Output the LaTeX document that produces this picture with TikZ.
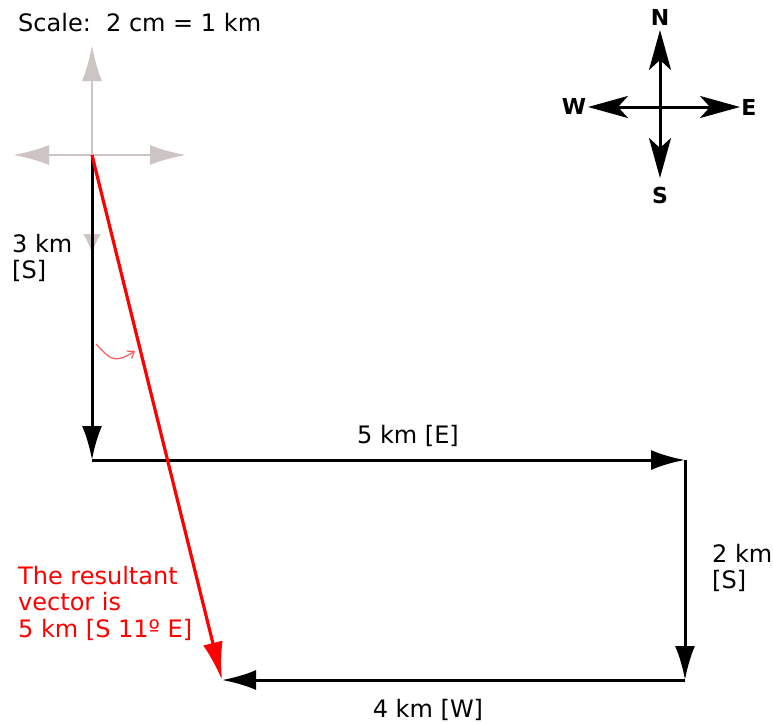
\documentclass[tikz,border=0pt]{standalone}
\usepackage{fontspec}
\setmainfont{DejaVu Sans}
\usepackage{tikz}
\usetikzlibrary{arrows.meta, positioning}
\usepackage{xcolor}
\definecolor{axisgray}{RGB}{206,196,196}
\definecolor{hintred}{RGB}{250,90,90}

\begin{document}
\begin{tikzpicture}[x=1pt, y=-1pt,
    leg/.style = {draw=black, line width=3pt, -{Latex[length=34pt, width=20pt]}},
    result/.style = {draw=red, line width=3.2pt, -{Latex[length=38pt, width=20pt]}},
    faint/.style = {draw=axisgray, line width=2.8pt, -{Latex[length=36pt, width=20pt]}},
    needle/.style = {draw=black, line width=3pt, -{Stealth[length=40pt, width=22pt, inset=10pt]}},
    txt/.style = {inner sep=0pt, font=\fontsize{24}{26.5}\selectfont, align=left},
    point/.style = {inner sep=0pt, font=\bfseries\fontsize{22}{24}\selectfont}
]
\useasboundingbox (0,0) rectangle (773,723);

% Scale
\node (scale) [txt, anchor=base west] at (18,31) {Scale:\ \ 2 cm = 1 km};

% Corners of the path
\coordinate (O) at (92,155);
\coordinate (A) at (92,460);
\coordinate (B) at (685,460);
\coordinate (C) at (685,680);
\coordinate (D) at (222,680);

% Faded axes at start
\coordinate (up) at (92,45);
\coordinate (lf) at (13,155);
\coordinate (rt) at (186,155);
\coordinate (dn) at (92,254);
\draw [faint] (O) -- (up);
\draw [faint] (O) -- (lf);
\draw [faint] (O) -- (rt);
\draw [faint, -{Latex[length=20pt, width=18pt]}] (O) -- (dn);

% Compass
\coordinate (hub) at (660,107);
\coordinate (tN) at (660,30);
\coordinate (tS) at (660,178);
\coordinate (tW) at (588,107);
\coordinate (tE) at (740,107);
\draw [needle] (hub) -- (tN);
\draw [needle] (hub) -- (tS);
\draw [needle] (hub) -- (tW);
\draw [needle] (hub) -- (tE);
\node (N) [point] at (660,17) {N};
\node (S) [point] at (660,195) {S};
\node (W) [point] at (574,106) {W};
\node (E) [point] at (749,107) {E};

% Displacements
\draw [leg] (O) -- (A);
\draw [leg] (A) -- (B);
\draw [leg] (B) -- (C);
\draw [leg] (C) -- (D);
\draw [result] (O) -- (D);

% Angle hint
\coordinate (h0) at (96,344);
\coordinate (h1) at (135,351);
\draw [hintred, line width=1.2pt, -{Straight Barb[length=6pt, width=9pt]}] (h0) .. controls (108,356) and (112,366) .. (h1);

% Labels
\node (l3) [txt, anchor=west] at (12,258) {3 km\\{}[S]};
\node (l5) [txt] at (408,436) {5 km [E]};
\node (l2) [txt, anchor=west] at (712,568) {2 km\\{}[S]};
\node (l4) [txt] at (428,710) {4 km [W]};
\node (lr) [txt, anchor=west, text=red] at (18,603) {The resultant\\vector is\\5 km [S 11º E]};

\end{tikzpicture}
\end{document}
